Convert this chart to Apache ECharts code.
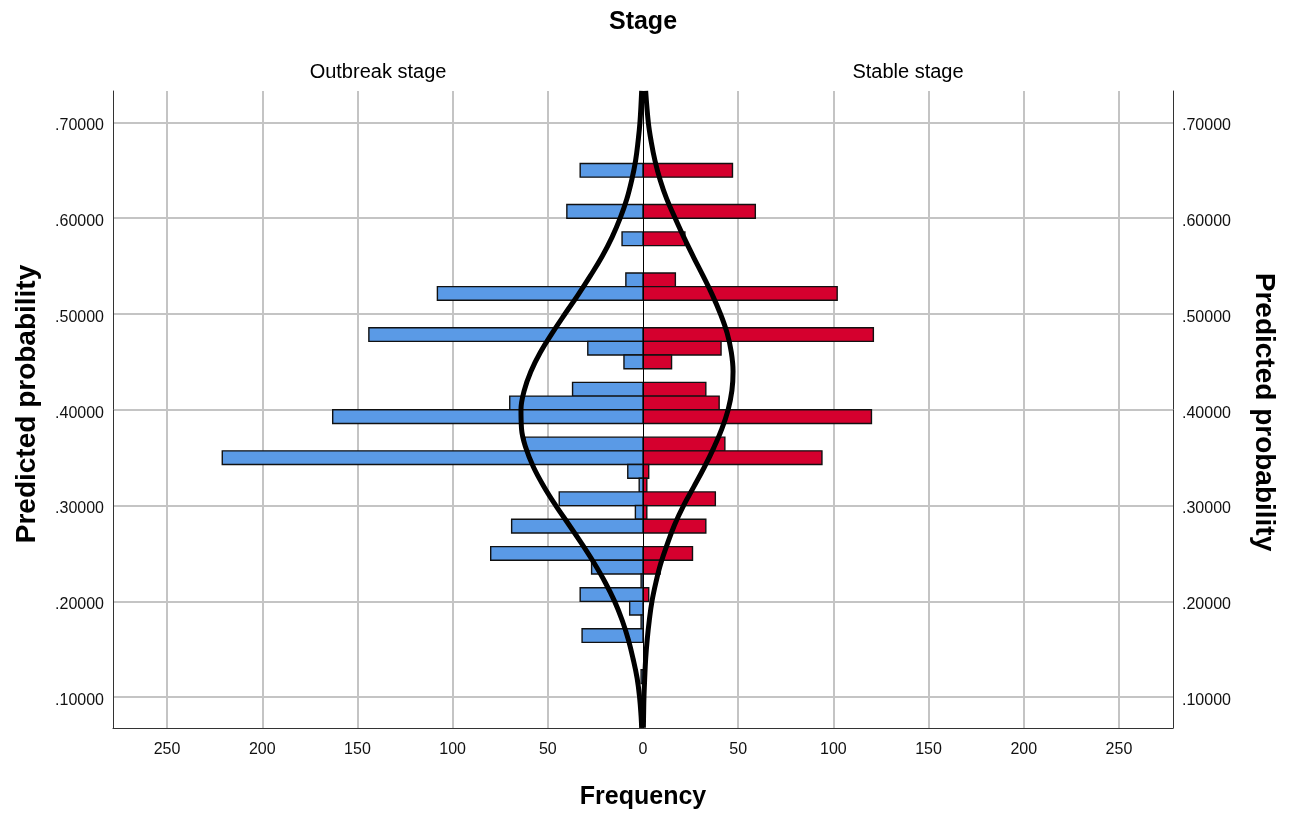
<!DOCTYPE html>
<html><head><meta charset="utf-8">
<script src="https://cdn.jsdelivr.net/npm/echarts@6/dist/echarts.min.js"></script>
<style>html,body{margin:0;padding:0;background:#fff}#c{width:1291px;height:816px}</style>
</head><body><div id="c"></div>
<script>
// ---- data ----
const binCenters = [0.65000,0.63571,0.62143,0.60714,0.59286,0.57857,0.56429,0.55000,0.53571,0.52143,
  0.50714,0.49286,0.47857,0.46429,0.45000,0.43571,0.42143,0.40714,0.39286,0.37857,
  0.36429,0.35000,0.33571,0.32143,0.30714,0.29286,0.27857,0.26429,0.25000,0.23571,
  0.22143,0.20714,0.19286,0.17857,0.16429,0.15000,0.13571,0.12143];
const binWidth = 0.0142857;
const outbreakCounts = [33,0,0,40,0,11,0,0,9,108,0,0,144,29,10,0,37,70,163,0,62,221,8,2,44,4,69,0,80,27,1,33,7,1,32,0,0,1];
const stableCounts   = [47,0,0,59,0,22,0,0,17,102,0,0,121,41,15,0,33,40,120,0,43,94,3,2,38,2,33,0,26,9,0,3,0,0,0,0,0,0];
const curveProb = [0.068,0.08,0.10,0.12,0.14,0.16,0.18,0.20,0.22,0.24,0.26,0.28,0.30,0.32,0.34,0.36,0.38,0.40,
  0.42,0.44,0.46,0.48,0.50,0.52,0.54,0.56,0.58,0.60,0.62,0.64,0.66,0.68,0.70,0.733];
const outbreakCurve = [0.7,1.0,1.8,3.1,5.2,7.7,10.9,14.9,19.9,25.7,32.1,38.9,45.8,52.1,57.5,61.5,63.8,64.1,
  62.4,58.9,53.9,47.7,41.0,34.1,27.6,21.5,16.3,12.0,8.5,5.9,3.9,2.6,1.6,0.7];
const stableCurve = [0.2,0.3,0.5,0.9,1.4,2.2,3.3,4.7,6.8,9.4,12.8,16.6,21.3,26.8,32.2,37.1,41.4,44.7,
  46.7,47.3,46.4,44.2,40.7,36.4,31.5,26.4,21.5,16.9,12.5,9.0,6.3,4.3,2.8,1.4];
const groupNames = ['Outbreak stage','Stable stage'];
const titleText = 'Stage';
const xTitle = 'Frequency';
const yTitle = 'Predicted probability';

// ---- styling ----
const FONT = '"Liberation Sans", Arial, sans-serif';
const GRID_COLOR = '#c4c4c4';
const AXIS_COLOR = '#333';
const BLUE = '#5a9ae6';
const RED = '#d5002e';

function barItem(color) {
  return function (params, api) {
    const c = api.value(0), p = api.value(1);
    if (!c) return null;
    const a = api.coord([0, p + binWidth / 2]);
    const b = api.coord([c, p - binWidth / 2]);
    return {
      type: 'rect',
      shape: { x: Math.min(a[0], b[0]), y: Math.min(a[1], b[1]),
               width: Math.abs(b[0] - a[0]), height: Math.abs(b[1] - a[1]) },
      style: { fill: color, stroke: '#111', lineWidth: 1.4 }
    };
  };
}

// leading empty line + small lineHeight nudges the label a few px below its gridline (as in the reference)
const probFmt = v => '\n' + v.toFixed(5).replace(/^0/, '');

function xAxisCfg(idx, inverse) {
  return {
    gridIndex: idx, type: 'value', inverse: inverse, min: 0, max: 278.4, interval: 50,
    position: 'bottom',
    axisLine: { show: true, onZero: false, lineStyle: { color: AXIS_COLOR, width: 1 } },
    axisTick: { show: false },
    axisLabel: { color: '#111', fontSize: 16, fontFamily: FONT, margin: 14,
                 showMinLabel: idx === 0, showMaxLabel: false },
    splitLine: { show: true, showMinLine: false, showMaxLine: false,
                 lineStyle: { color: GRID_COLOR, width: 2 } }
  };
}
function yAxisCfg(idx, pos) {
  return {
    gridIndex: idx, type: 'value', min: 0.0678, max: 0.7328, minInterval: 0.1, maxInterval: 0.1,
    position: pos,
    axisLine: { show: true, onZero: false, lineStyle: { color: AXIS_COLOR, width: 1 } },
    axisTick: { show: false },
    axisLabel: { color: '#111', fontSize: 16, fontFamily: FONT, margin: 9, lineHeight: 7,
                 formatter: probFmt, showMinLabel: false, showMaxLabel: false },
    splitLine: { show: true, showMinLine: false, showMaxLine: false,
                 lineStyle: { color: GRID_COLOR, width: 2 } }
  };
}

const chart = echarts.init(document.getElementById('c'), null, { renderer: 'canvas' });
chart.setOption({
  backgroundColor: '#fff',
  animation: false,
  grid: [
    { left: 113, top: 91, width: 530, height: 637, containLabel: false },
    { left: 643, top: 91, width: 530, height: 637, containLabel: false }
  ],
  xAxis: [xAxisCfg(0, true), xAxisCfg(1, false)],
  yAxis: [yAxisCfg(0, 'left'), yAxisCfg(1, 'right')],
  series: [
    { type: 'custom', name: groupNames[0], xAxisIndex: 0, yAxisIndex: 0, clip: true, z: 2,
      renderItem: barItem(BLUE), encode: { x: 0, y: 1 },
      data: binCenters.map((p, i) => [outbreakCounts[i], p]) },
    { type: 'custom', name: groupNames[1], xAxisIndex: 1, yAxisIndex: 1, clip: true, z: 2,
      renderItem: barItem(RED), encode: { x: 0, y: 1 },
      data: binCenters.map((p, i) => [stableCounts[i], p]) },
    { type: 'line', xAxisIndex: 0, yAxisIndex: 0, z: 4, symbol: 'none', showSymbol: false,
      smooth: 0.4, clip: true, silent: true,
      lineStyle: { color: '#000', width: 5 },
      data: curveProb.map((p, i) => [outbreakCurve[i], p]),
      markLine: { silent: true, symbol: ['none', 'none'], label: { show: false },
                  lineStyle: { color: '#000', width: 1, type: 'solid' },
                  data: [{ xAxis: 0 }] } },
    { type: 'line', xAxisIndex: 1, yAxisIndex: 1, z: 4, symbol: 'none', showSymbol: false,
      smooth: 0.4, clip: true, silent: true,
      lineStyle: { color: '#000', width: 5 },
      data: curveProb.map((p, i) => [stableCurve[i], p]) }
  ],
  graphic: [
    { type: 'text', x: 643, y: 22, style: { text: titleText, font: 'bold 25px ' + FONT, fill: '#000', align: 'center', verticalAlign: 'middle' } },
    { type: 'text', x: 378, y: 72, style: { text: groupNames[0], font: '20px ' + FONT, fill: '#000', align: 'center', verticalAlign: 'middle' } },
    { type: 'text', x: 908, y: 72, style: { text: groupNames[1], font: '20px ' + FONT, fill: '#000', align: 'center', verticalAlign: 'middle' } },
    { type: 'text', x: 643, y: 797, style: { text: xTitle, font: 'bold 25px ' + FONT, fill: '#000', align: 'center', verticalAlign: 'middle' } },
    { type: 'text', x: 27, y: 404, rotation: Math.PI / 2, style: { text: yTitle, font: 'bold 28px ' + FONT, fill: '#000', align: 'center', verticalAlign: 'middle' } },
    { type: 'text', x: 1264, y: 412, rotation: -Math.PI / 2, style: { text: yTitle, font: 'bold 28px ' + FONT, fill: '#000', align: 'center', verticalAlign: 'middle' } }
  ]
});
</script>
</body></html>
